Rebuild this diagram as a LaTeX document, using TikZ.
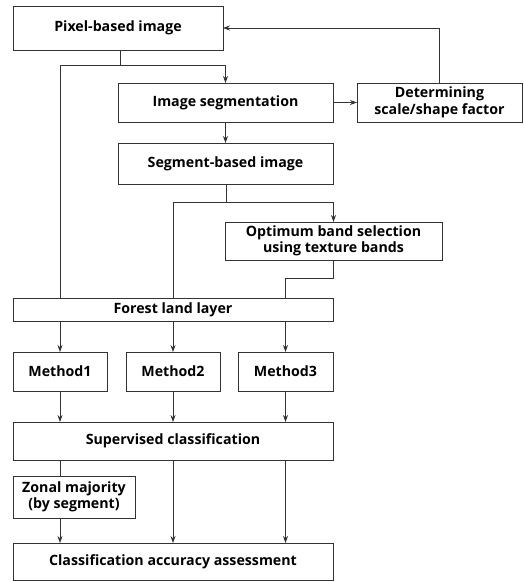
\documentclass[tikz,border=0pt]{standalone}
\usepackage{fontspec}
\setmainfont{Open Sans}
\tikzset{every picture/.style={/utils/exec={\bfseries}}}
\usetikzlibrary{positioning, arrows.meta}
\tikzset{box/.style={draw, inner sep=0pt, outer sep=0pt, anchor=north west, align=center,
    font=\fontsize{14.2}{16.5}\selectfont}}

\begin{document}
\begin{tikzpicture}[x=1pt, y=-1pt, >={Stealth[length=7pt, width=5pt]}, line width=0.8pt, draw=black!80]
  \useasboundingbox (0,0) rectangle (524,582);

  \node [box, minimum width=210pt, minimum height=44pt] (pix) at (13,6) {Pixel-based image};
  \node [box, minimum width=215pt, minimum height=39pt] (seg) at (118,83) {Image segmentation};
  \node [box, minimum width=165pt, minimum height=39pt, right=24pt of seg] (det) {Determining\\scale/shape factor};
  \node [box, minimum width=215pt, minimum height=41pt, below=21pt of seg] (sbi) {Segment-based image};
  \node [box, minimum width=217pt, minimum height=38pt] (opt) at (225,222) {Optimum band selection\\using texture bands};
  \node [box, minimum width=320pt, minimum height=23pt] (forest) at (13,298) {Forest land layer};

  \node [box, minimum width=94pt, minimum height=39pt] (m1) at (13,352) {Method1};
  \node [box, minimum width=94pt, minimum height=39pt, right=19pt of m1] (m2) {Method2};
  \node [box, minimum width=95pt, minimum height=39pt, right=18pt of m2] (m3) {Method3};

  \node [box, minimum width=320pt, minimum height=38pt] (sup) at (13,422) {Supervised classification};
  \node [box, minimum width=122pt, minimum height=42pt] (zon) at (13,476) {Zonal majority\\(by segment)};
  \node [box, minimum width=320pt, minimum height=37pt] (acc) at (13,543) {Classification accuracy assessment};

  % pixel image to segmentation and forest layer:
  \coordinate (j1) at (120,65);
  \draw (pix.south -| j1) -- (j1);
  \draw [->] (j1) -| (seg.north);
  \draw (j1) -| (forest.north -| m1);

  % segmentation loop:
  \draw [->] (seg.east) -- (det.west);
  \draw [->] (det.north) |- (pix.east);
  \draw [->] (seg) -- (sbi);

  % segment image to band selection and forest layer:
  \coordinate (j2) at (226,202);
  \draw (sbi.south -| j2) -- (j2);
  \draw [->] (j2) -| (opt.north);
  \draw (j2) -| (forest.north -| m2);
  \draw (opt.south) -- ++(0,18) -| (forest.north -| m3);

  % forest layer to methods to classification:
  \foreach \m in {m1, m2, m3} {
    \draw [->] (forest.south -| \m) -- (\m);
    \draw [->] (\m) -- (sup.north -| \m);
  }

  % classification to accuracy:
  \draw (sup.south -| m1) -- (zon.north -| m1);
  \draw [->] (zon.south -| m1) -- (acc.north -| m1);
  \draw [->] (sup.south -| m2) -- (acc.north -| m2);
  \draw [->] (sup.south -| m3) -- (acc.north -| m3);
\end{tikzpicture}
\end{document}
